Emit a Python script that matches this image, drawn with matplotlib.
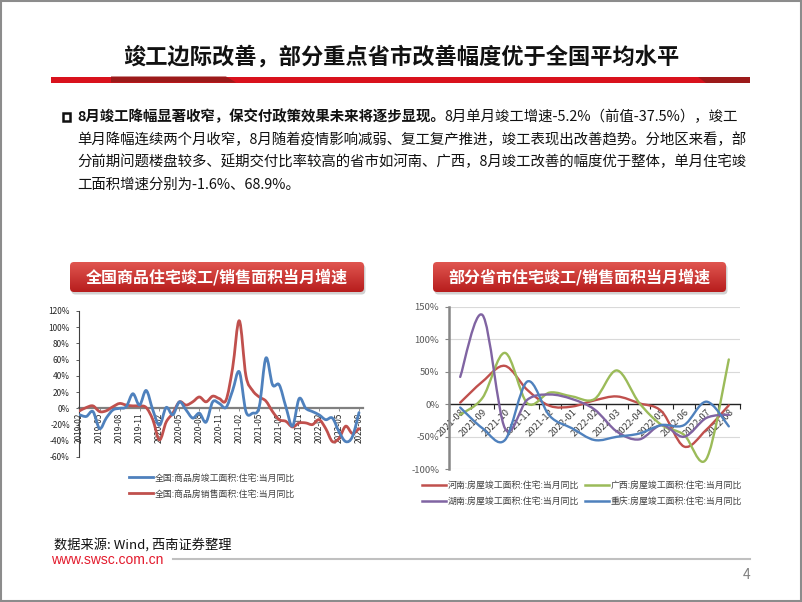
import matplotlib
matplotlib.use("Agg")
import matplotlib.pyplot as plt
import numpy as np
import pandas as pd
from matplotlib.path import Path
from matplotlib.patches import PathPatch, FancyBboxPatch, Rectangle, Polygon
from matplotlib.colors import LinearSegmentedColormap
from matplotlib.lines import Line2D

plt.rcParams['font.family'] = ['Noto Sans CJK SC', 'DejaVu Sans']

W, H = 802, 602

# ---------------------------------------------------------------------------
# data
# ---------------------------------------------------------------------------
nat_months = pd.date_range('2019-02', '2022-08', freq='MS').strftime('%Y-%m').tolist()
nat_completed = [-8, -10, -4, -25, -12, -2, 0, 2, 18, 4, 22, -2, -21, 1, -8, 8,
                 -2, -12, -6, -17, 8, 6, 1, 22, 45, -4, -6, 2, 62, 29, 29, 2,
                 -22, 12, 0, -4, -8, -14, -12, -29, -41, -35, -5.2]
nat_sold = [-3, 1, 3, -4, -3, 2, 6, 4, 3, 3, 1, -14, -39, -17, -6, 8,
            4, 8, 14, 8, 15, 12, 10, 50, 108, 40, 22, 14, 9, -4, -14, -16,
            -23, -18, -18, -20, -14, -25, -41, -37, -22, -31, -25]
nat_labels = ['全国:商品房竣工面积:住宅:当月同比', '全国:商品房销售面积:住宅:当月同比']

prov_months = ['2021-08', '2021-09', '2021-10', '2021-11', '2021-12', '2022-01', '2022-02',
               '2022-03', '2022-04', '2022-05', '2022-06', '2022-07', '2022-08']
henan = [2.5, 35, 59, 22, -2.5, -3.5, 6, 12, 1.5, -11, -65, -39, -1.6]
guangxi = [-16, 10, 79, 1.5, 18, 12, 8, 52, 2, -32, -47, -84, 68.9]
hunan = [42, 137, -37, 7, 15, 8, -8, -42, -54, -32, -50, -21, -16]
chongqing = [-5, -37, -55, 35, -18, -37, -55, -50, -45, -32, -32, 4, -34]
prov_labels = ['河南:房屋竣工面积:住宅:当月同比', '广西:房屋竣工面积:住宅:当月同比',
               '湖南:房屋竣工面积:住宅:当月同比', '重庆:房屋竣工面积:住宅:当月同比']

BLUE, RED, GREEN, PURPLE = '#4F81BD', '#C0504D', '#9BBB59', '#8064A2'

title = '竣工边际改善，部分重点省市改善幅度优于全国平均水平'
body_bold = '8月竣工降幅显著收窄，保交付政策效果未来将逐步显现。'
body_lines = ['8月单月竣工增速-5.2%（前值-37.5%），竣工',
              '单月降幅连续两个月收窄，8月随着疫情影响减弱、复工复产推进，竣工表现出改善趋势。分地区来看，部',
              '分前期问题楼盘较多、延期交付比率较高的省市如河南、广西，8月竣工改善的幅度优于整体，单月住宅竣',
              '工面积增速分别为-1.6%、68.9%。']


def smooth_path(xs, ys):
    # excel-like smoothed line: cubic bezier through every point
    pts = np.column_stack([xs, ys]).astype(float)
    n = len(pts)
    verts, codes = [pts[0]], [Path.MOVETO]
    for i in range(n - 1):
        p0, p1, p2 = pts[max(i - 1, 0)], pts[i], pts[i + 1]
        p3 = pts[min(i + 2, n - 1)]
        verts += [p1 + (p2 - p0) / 6, p2 - (p3 - p1) / 6, p2]
        codes += [Path.CURVE4] * 3
    return Path(verts, codes)


def px_axes(fig, left, right, top, bottom):
    return fig.add_axes([left / W, 1 - bottom / H, (right - left) / W, (bottom - top) / H])


fig = plt.figure(figsize=(W / 100, H / 100), dpi=100)
fig.patch.set_facecolor('white')

# background layer in pixel coordinates
bg = fig.add_axes([0, 0, 1, 1], zorder=0)
bg.set_xlim(0, W)
bg.set_ylim(H, 0)
bg.axis('off')

bg.add_patch(Rectangle((1, 1), W - 2.5, H - 2.5, fill=False, edgecolor='#8c8c8c', lw=1.5))

# title + red bar
bg.text(401, 57, title, fontsize=16, fontweight='bold', ha='center', va='center', color='#111111')
bg.add_patch(Rectangle((51, 76.5), 699, 6, facecolor='#d9121d', edgecolor='none'))
bg.add_patch(Polygon([(111, 76.5), (226, 76.5), (236, 82.5), (111, 82.5)], facecolor='#9c1a1a', edgecolor='none'))
bg.add_patch(Polygon([(698, 76.5), (750, 76.5), (750, 82.5), (706, 82.5)], facecolor='#9c1a1a', edgecolor='none'))

# body paragraph
bg.add_patch(Rectangle((62.5, 113), 7.5, 7.5, fill=False, edgecolor='#111111', lw=1.8))
renderer = fig.canvas.get_renderer()
tb = bg.text(77, 117, body_bold, fontsize=10.4, fontweight='bold', ha='left', va='center', color='#111111')
ext = tb.get_window_extent(renderer)
x_end = bg.transData.inverted().transform((ext.x1, ext.y0))[0]
bg.text(x_end, 117, body_lines[0], fontsize=10.4, ha='left', va='center', color='#111111')
for k, line in enumerate(body_lines[1:]):
    bg.text(77, 139.5 + 22.5 * k, line, fontsize=10.4, ha='left', va='center', color='#111111')

# chart title boxes
cmap = LinearSegmentedColormap.from_list('redgrad', ['#e05650', '#b71d1d'])
grad = np.linspace(0, 1, 64).reshape(-1, 1)
for x0, w, txt in [(70, 294, '全国商品住宅竣工/销售面积当月增速'), (433, 293, '部分省市住宅竣工/销售面积当月增速')]:
    y0, h = 262, 30
    bg.add_patch(FancyBboxPatch((x0 + 1.5, y0 + 2.5), w, h, boxstyle='round,pad=0,rounding_size=4',
                                facecolor='#000000', alpha=0.18, edgecolor='none', zorder=1))
    box = FancyBboxPatch((x0, y0), w, h, boxstyle='round,pad=0,rounding_size=4',
                         facecolor='none', edgecolor='none', zorder=2)
    bg.add_patch(box)
    im = bg.imshow(grad, cmap=cmap, extent=(x0, x0 + w, y0 + h, y0), aspect='auto', origin='upper', zorder=2)
    im.set_clip_path(box)
    bg.text(x0 + w / 2, y0 + h / 2, txt, fontsize=11.5, fontweight='bold', color='white',
            ha='center', va='center', zorder=3)
bg.set_xlim(0, W)
bg.set_ylim(H, 0)

# footer
bg.text(54, 545, '数据来源: Wind, 西南证券整理', fontsize=9.5, fontstyle='italic', ha='left', va='center', color='#111111')
bg.text(51, 560, 'www.swsc.com.cn', fontsize=10, family='Liberation Sans', ha='left', va='center', color='#e31b2d')
bg.plot([173, 750], [559, 559], color='#c0c0c0', lw=1.5)
bg.text(750, 575, '4', fontsize=10, ha='right', va='center', color='#808080')

# ---------------------------------------------------------------------------
# left chart – national completion / sales
# ---------------------------------------------------------------------------
ax1 = px_axes(fig, 79, 363, 311, 457)
ax1.patch.set_alpha(0)
xs = np.arange(len(nat_months))
for vals, col in [(nat_sold, RED), (nat_completed, BLUE)]:
    ax1.add_patch(PathPatch(smooth_path(xs, vals), fill=False, edgecolor=col, lw=2.0,
                            capstyle='round', joinstyle='round', zorder=3))
ax1.set_xlim(-0.1, 42.6)
ax1.set_ylim(-60, 120)
ax1.spines['top'].set_visible(False)
ax1.spines['right'].set_visible(False)
ax1.spines['left'].set_color('#404040')
ax1.spines['left'].set_linewidth(0.8)
ax1.spines['bottom'].set_position(('data', 0))
ax1.spines['bottom'].set_color('#808080')
ax1.spines['bottom'].set_linewidth(1.6)
ax1.spines['bottom'].set_zorder(2)
ax1.set_yticks(range(-60, 121, 20))
ax1.set_yticklabels([f'{v}%' for v in range(-60, 121, 20)])
ax1.set_xticks(xs[::3])
ax1.set_xticklabels(nat_months[::3], rotation=90)
ax1.tick_params(axis='y', labelsize=6, length=2.5, width=0.6, color='#404040', labelcolor='#262626', pad=4)
ax1.tick_params(axis='x', labelsize=6, length=2, width=0.6, color='#808080', labelcolor='#262626', pad=1)

ax1.legend(handles=[Line2D([], [], color=BLUE, lw=2), Line2D([], [], color=RED, lw=2)],
           labels=nat_labels, loc='center', bbox_to_anchor=(212 / W, 1 - 486 / H),
           bbox_transform=fig.transFigure, frameon=False, fontsize=6.4, handlelength=2.7,
           handletextpad=0.2, labelspacing=0.8, labelcolor='#404040')

# ---------------------------------------------------------------------------
# right chart – provinces
# ---------------------------------------------------------------------------
ax2 = px_axes(fig, 449, 740, 306.7, 469.3)
ax2.patch.set_alpha(0)
xp = np.arange(len(prov_months))
series = [(henan, RED), (guangxi, GREEN), (hunan, PURPLE), (chongqing, BLUE)]
for vals, col in series:
    ax2.add_patch(PathPatch(smooth_path(xp, vals), fill=False, edgecolor=col, lw=1.7,
                            capstyle='round', joinstyle='round', zorder=3))
ax2.set_xlim(-0.5, len(prov_months) - 0.5)
ax2.set_ylim(-100, 150)
ax2.set_yticks(range(-100, 151, 50))
ax2.set_yticklabels([f'{v}%' for v in range(-100, 151, 50)])
ax2.yaxis.grid(True, color='#d9d9d9', lw=0.8)
ax2.set_axisbelow(True)
ax2.spines['top'].set_visible(False)
ax2.spines['right'].set_visible(False)
ax2.spines['left'].set_color('#868686')
ax2.spines['left'].set_linewidth(1.8)
ax2.spines['bottom'].set_position(('data', 0))
ax2.spines['bottom'].set_color('#222222')
ax2.spines['bottom'].set_linewidth(1.0)
ax2.spines['bottom'].set_zorder(2)
ax2.set_xticks(np.arange(-0.5, len(prov_months), 1.0))
ax2.set_xticklabels([])
ax2.set_xticks(xp, prov_months, minor=True)
for lab in ax2.get_xticklabels(minor=True):
    lab.set_rotation(45)
    lab.set_ha('right')
    lab.set_va('top')
    lab.set_rotation_mode('anchor')
ax2.tick_params(axis='x', which='major', length=3.5, width=0.8, color='#222222')
ax2.tick_params(axis='x', which='minor', length=0, labelsize=6.8, labelcolor='#404040', pad=2)
ax2.tick_params(axis='y', length=3, width=0.8, color='#868686', labelsize=6.8, labelcolor='#595959', pad=4)

# legend filled column-wise: order gives rows 河南/广西 and 湖南/重庆
order = [0, 2, 1, 3]
ax2.legend(handles=[Line2D([], [], color=series[k][1], lw=1.8) for k in order],
           labels=[prov_labels[k] for k in order], ncol=2, loc='center',
           bbox_to_anchor=(582 / W, 1 - 494 / H),
           bbox_transform=fig.transFigure, frameon=False, fontsize=6.4, handlelength=2.7,
           handletextpad=0.25, labelspacing=0.8, columnspacing=0.6, labelcolor='#404040')

fig.savefig('out.png', dpi=100, facecolor='white')
